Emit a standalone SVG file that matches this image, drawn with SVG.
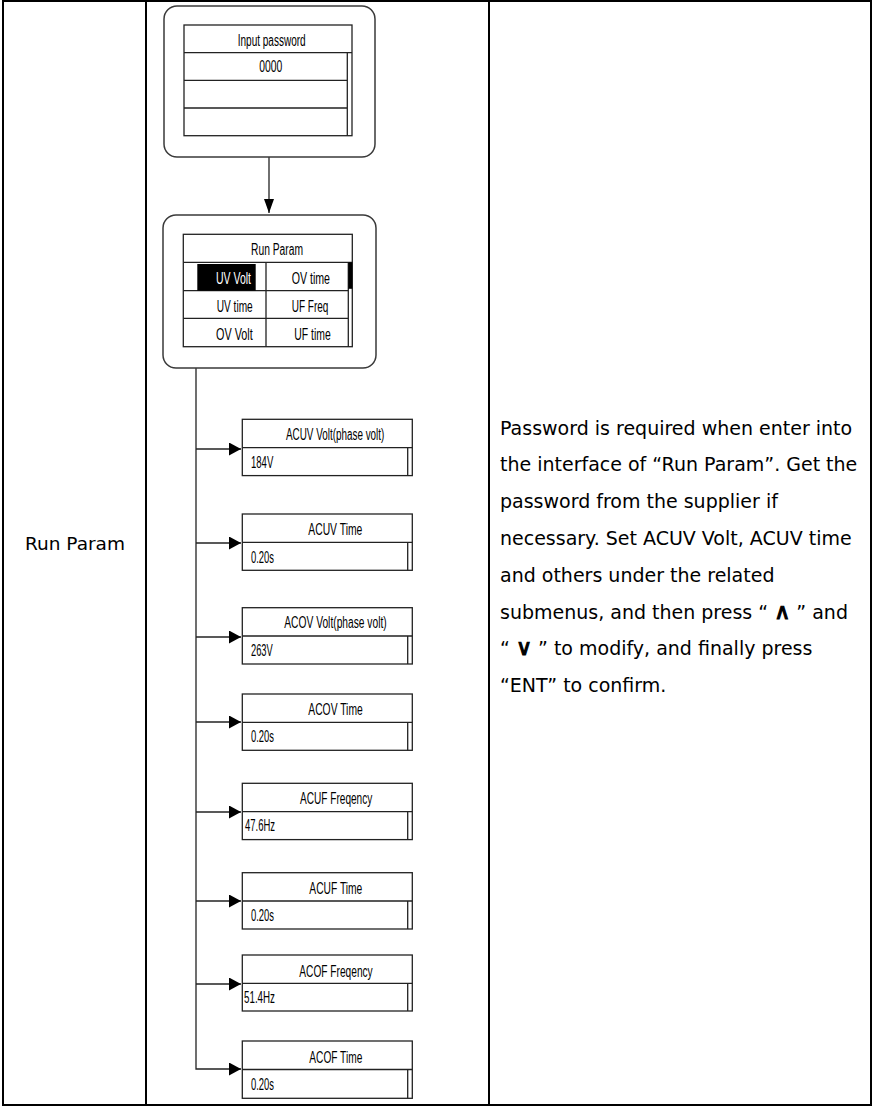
<svg xmlns="http://www.w3.org/2000/svg" width="873" height="1106" viewBox="0 0 873 1106">
<style>
.tbl{stroke:#000;stroke-width:2;fill:none}
.frame{fill:#fff;stroke:#3a3a3a;stroke-width:1.5}
.scr{fill:#fff;stroke:#222;stroke-width:1.3}
.ln{stroke:#222;stroke-width:1.3;fill:none}
.n{font-family:"Liberation Sans Narrow","Liberation Sans",Arial,sans-serif;font-size:16px;fill:#000}
.w{fill:#fff}
.body{font-family:"DejaVu Sans",Verdana,sans-serif;font-size:19px;fill:#000}
.lbl{font-size:18.5px}
.sym{font-weight:normal;font-size:22px;stroke:#000;stroke-width:1.1}
.conn{stroke:#222;stroke-width:1.3;fill:none}
</style>
<defs>
<marker id="ah" markerUnits="userSpaceOnUse" markerWidth="12" markerHeight="13" viewBox="0 0 12 13" refX="12" refY="6.5" orient="auto">
<path d="M0,0 L12,6.5 L0,13 z" fill="#000"/>
</marker>
<marker id="ahv" markerUnits="userSpaceOnUse" markerWidth="14" markerHeight="10" viewBox="0 0 14 10" refX="14" refY="5" orient="auto">
<path d="M0,0 L14,5 L0,10 z" fill="#000"/>
</marker>
</defs>
<rect width="873" height="1106" fill="#fff"/>
<g id="table">
<rect class="tbl" x="3" y="1" width="868" height="1104"/>
<line class="tbl" x1="146" y1="1" x2="146" y2="1105"/>
<line class="tbl" x1="489" y1="1" x2="489" y2="1105"/>
</g>
<g id="label-run-param">
<text class="body lbl" x="75" y="550" text-anchor="middle">Run Param</text>
</g>
<g id="description" class="body">
<text x="500" y="434.5">Password is required when enter into</text>
<text x="500" y="471.3">the interface of “Run Param”. Get the</text>
<text x="500" y="508.1">password from the supplier if</text>
<text x="500" y="544.9">necessary. Set ACUV Volt, ACUV time</text>
<text x="500" y="581.7">and others under the related</text>
<text x="500" y="618.5">submenus, and then press “ <tspan class="sym">∧</tspan> ” and</text>
<text x="500" y="655.3">“ <tspan class="sym">∨</tspan> ” to modify, and finally press</text>
<text x="500" y="692.1">“ENT” to confirm.</text>
</g>
<g id="connectors">
<line class="conn" x1="269" y1="157" x2="269" y2="213" marker-end="url(#ahv)"/>
<path class="conn" d="M196,368 V1069 H241" marker-end="url(#ah)"/>
<line class="conn" x1="196" y1="449" x2="241" y2="449" marker-end="url(#ah)"/>
<line class="conn" x1="196" y1="543" x2="241" y2="543" marker-end="url(#ah)"/>
<line class="conn" x1="196" y1="637" x2="241" y2="637" marker-end="url(#ah)"/>
<line class="conn" x1="196" y1="722" x2="241" y2="722" marker-end="url(#ah)"/>
<line class="conn" x1="196" y1="812" x2="241" y2="812" marker-end="url(#ah)"/>
<line class="conn" x1="196" y1="901" x2="241" y2="901" marker-end="url(#ah)"/>
<line class="conn" x1="196" y1="984" x2="241" y2="984" marker-end="url(#ah)"/>
</g>
<g id="input-password">
<rect class="frame" x="164" y="6" width="211" height="151" rx="13"/>
<rect class="scr" x="184" y="25" width="168" height="110.7"/>
<path class="ln" d="M184,52.7 H352 M184,80.3 H347.3 M184,108 H347.3 M347.3,52.7 V135.7"/>
<text class="n" x="237.7" y="46" textLength="68" lengthAdjust="spacingAndGlyphs">Input password</text>
<text class="n" x="259.3" y="71.5" textLength="23" lengthAdjust="spacingAndGlyphs">0000</text>
</g>
<g id="run-param-menu">
<rect class="frame" x="163" y="215" width="213" height="153" rx="13"/>
<rect class="scr" x="183.3" y="234.3" width="169" height="112.4"/>
<path class="ln" d="M183.3,262.3 H352.3 M183.3,290.7 H348.3 M183.3,318.3 H348.3 M266,262.3 V346.7 M348.3,262.3 V346.7"/>
<rect x="348.3" y="262.3" width="4" height="26.5" fill="#000"/>
<rect x="197.3" y="264" width="58.4" height="26.7" fill="#000"/>
<text class="n" x="251" y="255" textLength="52" lengthAdjust="spacingAndGlyphs">Run Param</text>
<text class="n w" x="216" y="284" textLength="35" lengthAdjust="spacingAndGlyphs">UV Volt</text>
<text class="n" x="291.7" y="284" textLength="38.3" lengthAdjust="spacingAndGlyphs">OV time</text>
<text class="n" x="216.7" y="311.7" textLength="36" lengthAdjust="spacingAndGlyphs">UV time</text>
<text class="n" x="291.7" y="311.7" textLength="36.7" lengthAdjust="spacingAndGlyphs">UF Freq</text>
<text class="n" x="216" y="340" textLength="36.7" lengthAdjust="spacingAndGlyphs">OV Volt</text>
<text class="n" x="294.3" y="340" textLength="36.4" lengthAdjust="spacingAndGlyphs">UF time</text>
</g>
<g id="acuv-volt">
<rect class="scr" x="242.3" y="419.3" width="170" height="56.3"/>
<path class="ln" d="M242.3,447.6 H412.3 M407.7,447.6 V475.6"/>
<text class="n" x="286" y="440" textLength="98.3" lengthAdjust="spacingAndGlyphs">ACUV Volt(phase volt)</text>
<text class="n" x="251" y="467.5" textLength="22.3" lengthAdjust="spacingAndGlyphs">184V</text>
</g>
<g id="acuv-time">
<rect class="scr" x="242.3" y="514" width="170" height="56.3"/>
<path class="ln" d="M242.3,542.3 H412.3 M407.7,542.3 V570.3"/>
<text class="n" x="308.3" y="534.5" textLength="54" lengthAdjust="spacingAndGlyphs">ACUV Time</text>
<text class="n" x="251" y="562.5" textLength="23" lengthAdjust="spacingAndGlyphs">0.20s</text>
</g>
<g id="acov-volt">
<rect class="scr" x="242.3" y="607.7" width="170" height="56.3"/>
<path class="ln" d="M242.3,636 H412.3 M407.7,636 V664"/>
<text class="n" x="284.3" y="628.3" textLength="102.4" lengthAdjust="spacingAndGlyphs">ACOV Volt(phase volt)</text>
<text class="n" x="251" y="655.5" textLength="21.7" lengthAdjust="spacingAndGlyphs">263V</text>
</g>
<g id="acov-time">
<rect class="scr" x="242.3" y="694" width="170" height="56.3"/>
<path class="ln" d="M242.3,722.3 H412.3 M407.7,722.3 V750.3"/>
<text class="n" x="308.3" y="714.5" textLength="54.4" lengthAdjust="spacingAndGlyphs">ACOV Time</text>
<text class="n" x="251" y="742" textLength="23" lengthAdjust="spacingAndGlyphs">0.20s</text>
</g>
<g id="acuf-freq">
<rect class="scr" x="242.3" y="783.3" width="170" height="56.3"/>
<path class="ln" d="M242.3,811.6 H412.3 M407.7,811.6 V839.6"/>
<text class="n" x="300" y="803.5" textLength="72.3" lengthAdjust="spacingAndGlyphs">ACUF Freqency</text>
<text class="n" x="245" y="831" textLength="30" lengthAdjust="spacingAndGlyphs">47.6Hz</text>
</g>
<g id="acuf-time">
<rect class="scr" x="242.3" y="872.7" width="170" height="56.3"/>
<path class="ln" d="M242.3,901 H412.3 M407.7,901 V929"/>
<text class="n" x="309.3" y="893.5" textLength="53" lengthAdjust="spacingAndGlyphs">ACUF Time</text>
<text class="n" x="251" y="921" textLength="23" lengthAdjust="spacingAndGlyphs">0.20s</text>
</g>
<g id="acof-freq">
<rect class="scr" x="242.3" y="955" width="170" height="56"/>
<path class="ln" d="M242.3,983.3 H412.3 M407.7,983.3 V1011"/>
<text class="n" x="299.3" y="976.5" textLength="73.4" lengthAdjust="spacingAndGlyphs">ACOF Freqency</text>
<text class="n" x="244" y="1003" textLength="31" lengthAdjust="spacingAndGlyphs">51.4Hz</text>
</g>
<g id="acof-time">
<rect class="scr" x="242.3" y="1041" width="170" height="57.3"/>
<path class="ln" d="M242.3,1069.5 H412.3 M407.7,1069.5 V1098.3"/>
<text class="n" x="309.3" y="1062.5" textLength="53" lengthAdjust="spacingAndGlyphs">ACOF Time</text>
<text class="n" x="251" y="1090" textLength="23" lengthAdjust="spacingAndGlyphs">0.20s</text>
</g>
</svg>
